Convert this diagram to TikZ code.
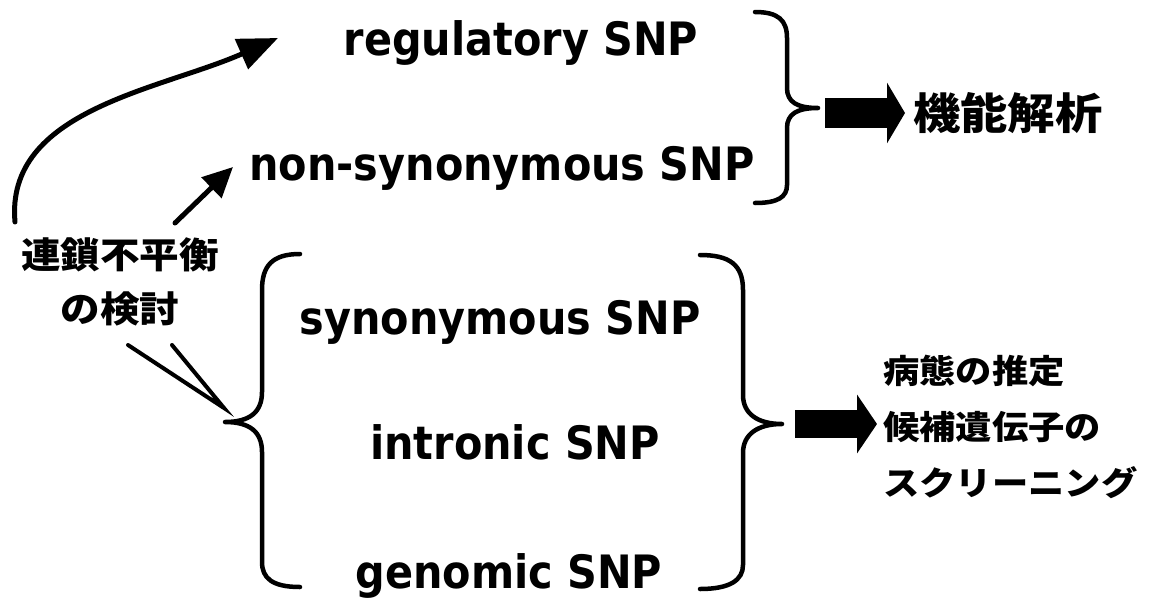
\documentclass[tikz,border=0pt]{standalone}
\usepackage{fontspec}
\setmainfont{DejaVu Sans}
\newfontfamily\snpfont{DejaVu Sans Condensed Bold}
\newfontfamily\jpfont[FakeStretch=1.1]{Noto Sans CJK JP}
\usetikzlibrary{arrows.meta}

\begin{document}
\begin{tikzpicture}[x=1pt,y=-1pt]
	\tikzstyle{snp}=[inner sep=0pt, anchor=base, font={\snpfont\fontsize{46}{50}\selectfont}];
	\tikzstyle{jp}=[inner sep=0pt, font={\jpfont\bfseries}];
	\tikzstyle{bracket}=[line width=4.5pt, line cap=round, line join=round];
	\tikzstyle{fatarrow}=[line width=30pt, -{Triangle[length=18pt,width=60pt]}];
	\tikzstyle{pointer}=[line width=5pt, line cap=round];
	\useasboundingbox (0,0) rectangle (1155,597);

	\node [snp] (reg) at (521,55) {regulatory SNP};
	\node [snp] (nonsyn) at (502,180) {non-synonymous SNP};
	\node [snp] (syn) at (500,334) {synonymous SNP};
	\node [snp] (intron) at (515,459) {intronic SNP};
	\node [snp] (genomic) at (509,588) {genomic SNP};

	\node [jp, anchor=west, font={\jpfont\bfseries\fontsize{43}{47}\selectfont}] (func) at (913,113) {機能解析};
	\node [jp, align=center, font={\jpfont\bfseries\fontsize{36}{54}\selectfont}] (ld) at (120,282) {連鎖不平衡\\の検討};
	\node [jp, anchor=west, align=left, font={\jpfont\bfseries\fontsize{33}{56}\selectfont}] (scr) at (883,427) {病態の推定\\候補遺伝子の\\スクリーニング};

	\draw [bracket] (755,12) .. controls (778,12) and (787,20) .. (787,38) -- (787,88)
		.. controls (787,102) and (797,108) .. (818,108) coordinate (upTip)
		.. controls (797,108) and (787,114) .. (787,128) -- (787,185)
		.. controls (787,197) and (778,203) .. (755,203);
	\draw [bracket] (300,254) .. controls (272,254) and (262,266) .. (262,290) -- (262,392)
		.. controls (262,412) and (250,422) .. (225,422) coordinate (lowLeftTip)
		.. controls (250,422) and (262,432) .. (262,452) -- (262,562)
		.. controls (262,578) and (272,587) .. (300,587);
	\draw [bracket] (700,255) .. controls (730,255) and (743,265) .. (743,290) -- (743,395)
		.. controls (743,414) and (758,424) .. (782,424) coordinate (lowTip)
		.. controls (758,424) and (743,434) .. (743,453) -- (743,565)
		.. controls (743,580) and (730,589) .. (700,589);

	\draw [fatarrow, shorten <=7pt, shorten >=8pt] (upTip |- func.west) -- (func.west);
	\draw [fatarrow, -{Triangle[length=20pt,width=58pt]}, line width=28pt, shorten <=13pt, shorten >=6pt] (lowTip) -- (lowTip -| scr.west);

	\coordinate (curveStart) at (15,222);
	\coordinate (regTip) at (278,38);
	\coordinate (lineStart) at (175,223);
	\coordinate (nonsynTip) at (233,167);
	\coordinate (vLeft) at (128,345);
	\coordinate (vRight) at (172,345);
	\draw [pointer, -{Triangle[length=40pt,width=32pt]}] (curveStart) .. controls (5,110) and (160,90) .. (regTip);
	\draw [pointer, -{Triangle[length=30pt,width=28pt]}] (lineStart) -- (nonsynTip);
	\draw [line width=4pt, line cap=round] (vLeft) -- ([xshift=-1pt,yshift=14pt]lowLeftTip) -- (vRight);
\end{tikzpicture}
\end{document}
